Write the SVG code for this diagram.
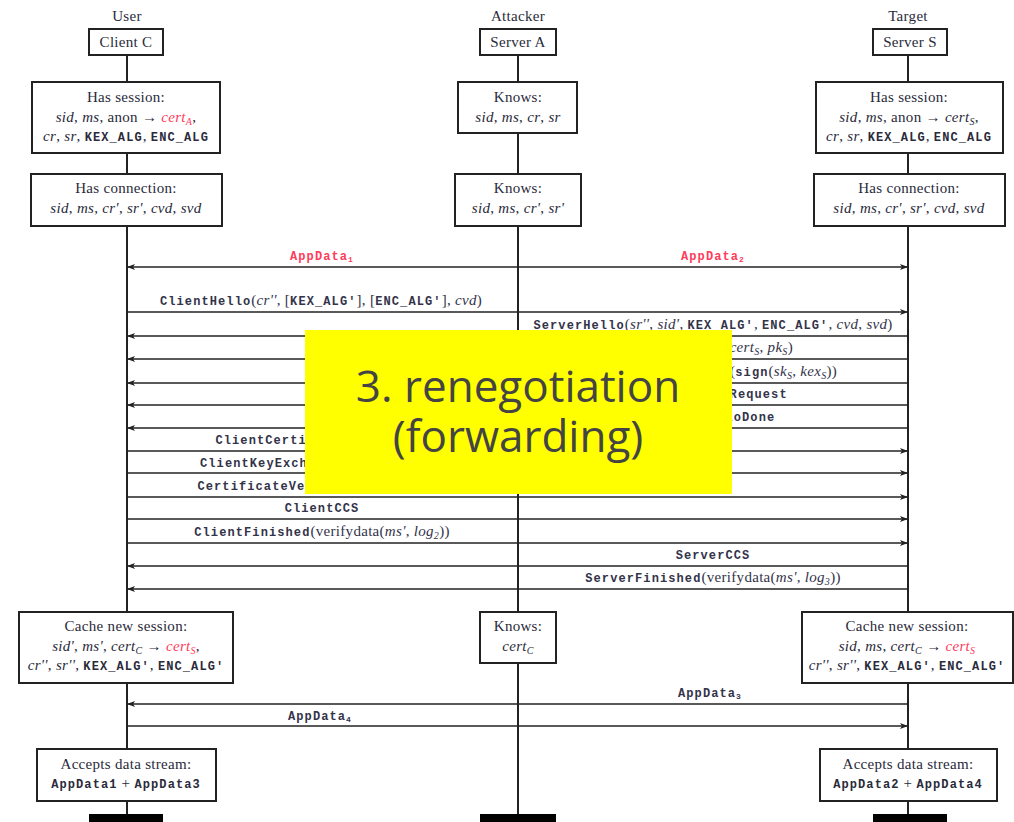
<svg xmlns="http://www.w3.org/2000/svg" width="1014" height="822" viewBox="0 0 1014 822">
  <defs>
    <marker id="arr" viewBox="0 0 8 6" refX="8" refY="3" markerWidth="8" markerHeight="6" markerUnits="userSpaceOnUse" orient="auto">
      <path d="M0,0 L8,3 L0,6 L2,3 Z" fill="#222"/>
    </marker>
    <style>
      .box { fill: #fff; stroke: #222; stroke-width: 2; }
      .life { stroke: #222; stroke-width: 2; fill: none; }
      .msg { stroke: #222; stroke-width: 1.6; fill: none; marker-end: url(#arr); }
      .rm { font-family: "Liberation Serif", "DejaVu Serif", serif; font-size: 15px; letter-spacing: 0.3px; fill: #2a2a3a; text-anchor: middle; }
      .tt { font-family: "Liberation Mono", "DejaVu Sans Mono", monospace; font-size: 12px; letter-spacing: 1.1px; font-weight: bold; fill: #33334a; text-anchor: middle; }
      .ttn { font-family: "Liberation Mono", "DejaVu Sans Mono", monospace; font-size: 12px; letter-spacing: 1.1px; font-weight: bold; font-style: normal; }
      .it { font-family: "Liberation Serif", "DejaVu Serif", serif; font-style: italic; font-weight: normal; font-size: 15px; letter-spacing: 0.3px; }
      .ser { font-family: "Liberation Serif", "DejaVu Serif", serif; font-weight: normal; font-size: 15px; letter-spacing: 0.3px; }
      .red { fill: #ff3b5c; }
      .bar { fill: #000; }
      .note { fill: #ffff00; }
      .notetext { font-family: "Open Sans", "Noto Sans", sans-serif; font-size: 44px; fill: #444; text-anchor: middle; }
    </style>
  </defs>

  <!-- role headings -->
  <text class="rm" x="127" y="21">User</text>
  <text class="rm" x="518" y="21">Attacker</text>
  <text class="rm" x="908" y="21">Target</text>

  <!-- lifelines and messages -->
  <g id="connectors">
    <path class="life" d="M127,55 V82 M127,153 V174 M127,226 V612 M127,683 V749 M127,801 V814"/>
    <path class="life" d="M518,55 V82 M518,133 V174 M518,226 V612 M518,663 V814"/>
    <path class="life" d="M908,55 V82 M908,153 V174 M908,226 V612 M908,683 V749 M908,801 V814"/>

    <line class="msg" x1="518" y1="267" x2="127" y2="267"/>
    <line class="msg" x1="518" y1="267" x2="908" y2="267"/>
    <line class="msg" x1="127" y1="312" x2="908" y2="312"/>
    <line class="msg" x1="908" y1="336" x2="127" y2="336"/>
    <line class="msg" x1="908" y1="359" x2="127" y2="359"/>
    <line class="msg" x1="908" y1="383" x2="127" y2="383"/>
    <line class="msg" x1="908" y1="405" x2="127" y2="405"/>
    <line class="msg" x1="908" y1="428" x2="127" y2="428"/>
    <line class="msg" x1="127" y1="451" x2="908" y2="451"/>
    <line class="msg" x1="127" y1="473" x2="908" y2="473"/>
    <line class="msg" x1="127" y1="497" x2="908" y2="497"/>
    <line class="msg" x1="127" y1="519" x2="908" y2="519"/>
    <line class="msg" x1="127" y1="543" x2="908" y2="543"/>
    <line class="msg" x1="908" y1="566" x2="127" y2="566"/>
    <line class="msg" x1="908" y1="589" x2="127" y2="589"/>
    <line class="msg" x1="908" y1="704" x2="127" y2="704"/>
    <line class="msg" x1="127" y1="726" x2="908" y2="726"/>
  </g>

  <!-- message labels -->
  <g id="labels">
    <text class="tt red" x="322" y="260">AppData<tspan font-size="8" dy="2">1</tspan></text>
    <text class="tt red" x="713" y="260">AppData<tspan font-size="8" dy="2">2</tspan></text>
    <text class="tt" x="321" y="305">ClientHello<tspan class="ser">(</tspan><tspan class="it">cr''</tspan><tspan class="ser">, [</tspan><tspan class="ttn">KEX_ALG'</tspan><tspan class="ser">], [</tspan><tspan class="ttn">ENC_ALG'</tspan><tspan class="ser">], </tspan><tspan class="it">cvd</tspan><tspan class="ser">)</tspan></text>
    <text class="tt" x="713" y="329">ServerHello<tspan class="ser">(</tspan><tspan class="it">sr''</tspan><tspan class="ser">, </tspan><tspan class="it">sid'</tspan><tspan class="ser">, </tspan><tspan class="ttn">KEX_ALG'</tspan><tspan class="ser">, </tspan><tspan class="ttn">ENC_ALG'</tspan><tspan class="ser">, </tspan><tspan class="it">cvd</tspan><tspan class="ser">, </tspan><tspan class="it">svd</tspan><tspan class="ser">)</tspan></text>
    <text class="tt" x="713" y="352">Certificate<tspan class="ser">(</tspan><tspan class="it">cert<tspan font-size="10" dy="3">S</tspan></tspan><tspan class="ser" dy="-3">, </tspan><tspan class="it">pk<tspan font-size="10" dy="3">S</tspan></tspan><tspan class="ser" dy="-3">)</tspan></text>
    <text class="tt" x="713" y="376">ServerKeyExchange<tspan class="ser">(</tspan>sign<tspan class="ser">(</tspan><tspan class="it">sk<tspan font-size="10" dy="3">S</tspan></tspan><tspan class="ser" dy="-3">, </tspan><tspan class="it">kex<tspan font-size="10" dy="3">S</tspan></tspan><tspan class="ser" dy="-3">))</tspan></text>
    <text class="tt" x="713" y="398">CertificateRequest</text>
    <text class="tt" x="713" y="421">ServerHelloDone</text>
    <text class="tt" x="322" y="444">ClientCertificate<tspan class="ser">(</tspan><tspan class="it">cert<tspan font-size="10" dy="3">C</tspan></tspan><tspan class="ser" dy="-3">, </tspan><tspan class="it">pk<tspan font-size="10" dy="3">C</tspan></tspan><tspan class="ser" dy="-3">)</tspan></text>
    <text class="tt" x="322" y="467">ClientKeyExchange<tspan class="ser">(</tspan>rsa<tspan class="ser">(</tspan><tspan class="it">pk<tspan font-size="10" dy="3">S</tspan></tspan><tspan class="ser" dy="-3">, </tspan><tspan class="it">pms'</tspan><tspan class="ser">))</tspan></text>
    <text class="tt" x="322" y="490">CertificateVerify<tspan class="ser">(</tspan>sign<tspan class="ser">(</tspan><tspan class="it">log<tspan font-size="10" dy="3">1</tspan></tspan><tspan class="ser" dy="-3">, </tspan><tspan class="it">sk<tspan font-size="10" dy="3">C</tspan></tspan><tspan class="ser" dy="-3">))</tspan></text>
    <text class="tt" x="322" y="512">ClientCCS</text>
    <text class="tt" x="322" y="536">ClientFinished<tspan class="ser">(verifydata(</tspan><tspan class="it">ms'</tspan><tspan class="ser">, </tspan><tspan class="it">log<tspan font-size="10" dy="3">2</tspan></tspan><tspan class="ser" dy="-3">))</tspan></text>
    <text class="tt" x="713" y="559">ServerCCS</text>
    <text class="tt" x="713" y="582">ServerFinished<tspan class="ser">(verifydata(</tspan><tspan class="it">ms'</tspan><tspan class="ser">, </tspan><tspan class="it">log<tspan font-size="10" dy="3">3</tspan></tspan><tspan class="ser" dy="-3">))</tspan></text>
    <text class="tt" x="710" y="697">AppData<tspan font-size="8" dy="2">3</tspan></text>
    <text class="tt" x="320" y="720">AppData<tspan font-size="8" dy="2">4</tspan></text>
  </g>

  <!-- Client column -->
  <g id="client-c">
    <rect class="box" x="89" y="29" width="74" height="26"/>
    <text class="rm" x="126" y="47">Client C</text>
  </g>
  <g id="client-session">
    <rect class="box" x="32" y="82" width="188" height="71"/>
    <text class="rm" x="126" y="102">Has session:</text>
    <text class="rm" x="126" y="122"><tspan class="it">sid</tspan>, <tspan class="it">ms</tspan>, anon → <tspan class="it red">cert<tspan font-size="10" dy="3">A</tspan></tspan><tspan dy="-3">,</tspan></text>
    <text class="rm" x="126" y="141"><tspan class="it">cr</tspan>, <tspan class="it">sr</tspan>, <tspan class="ttn">KEX_ALG</tspan>, <tspan class="ttn">ENC_ALG</tspan></text>
  </g>
  <g id="client-connection">
    <rect class="box" x="31" y="174" width="191" height="52"/>
    <text class="rm" x="126" y="193">Has connection:</text>
    <text class="rm" x="126" y="213"><tspan class="it">sid</tspan>, <tspan class="it">ms</tspan>, <tspan class="it">cr'</tspan>, <tspan class="it">sr'</tspan>, <tspan class="it">cvd</tspan>, <tspan class="it">svd</tspan></text>
  </g>
  <g id="client-cache">
    <rect class="box" x="19" y="612" width="214" height="71"/>
    <text class="rm" x="126" y="631">Cache new session:</text>
    <text class="rm" x="126" y="651"><tspan class="it">sid'</tspan>, <tspan class="it">ms'</tspan>, <tspan class="it">cert<tspan font-size="10" dy="3">C</tspan></tspan><tspan dy="-3"> → </tspan><tspan class="it red">cert<tspan font-size="10" dy="3">S</tspan></tspan><tspan dy="-3">,</tspan></text>
    <text class="rm" x="126" y="670"><tspan class="it">cr''</tspan>, <tspan class="it">sr''</tspan>, <tspan class="ttn">KEX_ALG'</tspan>, <tspan class="ttn">ENC_ALG'</tspan></text>
  </g>
  <g id="client-accepts">
    <rect class="box" x="37" y="749" width="179" height="52"/>
    <text class="rm" x="126" y="769">Accepts data stream:</text>
    <text class="rm" x="126" y="788"><tspan class="ttn">AppData1</tspan> + <tspan class="ttn">AppData3</tspan></text>
  </g>
  <rect class="bar" x="89" y="814" width="74" height="8"/>

  <!-- Attacker column -->
  <g id="server-a">
    <rect class="box" x="480" y="29" width="76" height="26"/>
    <text class="rm" x="518" y="47">Server A</text>
  </g>
  <g id="attacker-knows-1">
    <rect class="box" x="458" y="82" width="119" height="51"/>
    <text class="rm" x="518" y="102">Knows:</text>
    <text class="rm" x="518" y="122"><tspan class="it">sid</tspan>, <tspan class="it">ms</tspan>, <tspan class="it">cr</tspan>, <tspan class="it">sr</tspan></text>
  </g>
  <g id="attacker-knows-2">
    <rect class="box" x="455" y="174" width="126" height="52"/>
    <text class="rm" x="518" y="193">Knows:</text>
    <text class="rm" x="518" y="213"><tspan class="it">sid</tspan>, <tspan class="it">ms</tspan>, <tspan class="it">cr'</tspan>, <tspan class="it">sr'</tspan></text>
  </g>
  <g id="attacker-knows-3">
    <rect class="box" x="480" y="612" width="76" height="51"/>
    <text class="rm" x="518" y="631">Knows:</text>
    <text class="rm" x="518" y="651"><tspan class="it">cert<tspan font-size="10" dy="3">C</tspan></tspan></text>
  </g>
  <rect class="bar" x="480" y="814" width="76" height="8"/>

  <!-- Target column -->
  <g id="server-s">
    <rect class="box" x="873" y="29" width="74" height="26"/>
    <text class="rm" x="910" y="47">Server S</text>
  </g>
  <g id="server-session">
    <rect class="box" x="816" y="82" width="187" height="71"/>
    <text class="rm" x="909" y="102">Has session:</text>
    <text class="rm" x="909" y="122"><tspan class="it">sid</tspan>, <tspan class="it">ms</tspan>, anon → <tspan class="it">cert<tspan font-size="10" dy="3">S</tspan></tspan><tspan dy="-3">,</tspan></text>
    <text class="rm" x="909" y="141"><tspan class="it">cr</tspan>, <tspan class="it">sr</tspan>, <tspan class="ttn">KEX_ALG</tspan>, <tspan class="ttn">ENC_ALG</tspan></text>
  </g>
  <g id="server-connection">
    <rect class="box" x="814" y="174" width="191" height="52"/>
    <text class="rm" x="909" y="193">Has connection:</text>
    <text class="rm" x="909" y="213"><tspan class="it">sid</tspan>, <tspan class="it">ms</tspan>, <tspan class="it">cr'</tspan>, <tspan class="it">sr'</tspan>, <tspan class="it">cvd</tspan>, <tspan class="it">svd</tspan></text>
  </g>
  <g id="server-cache">
    <rect class="box" x="802" y="612" width="211" height="71"/>
    <text class="rm" x="907" y="631">Cache new session:</text>
    <text class="rm" x="907" y="651"><tspan class="it">sid</tspan>, <tspan class="it">ms</tspan>, <tspan class="it">cert<tspan font-size="10" dy="3">C</tspan></tspan><tspan dy="-3"> → </tspan><tspan class="it red">cert<tspan font-size="10" dy="3">S</tspan></tspan></text>
    <text class="rm" x="907" y="670"><tspan class="it">cr''</tspan>, <tspan class="it">sr''</tspan>, <tspan class="ttn">KEX_ALG'</tspan>, <tspan class="ttn">ENC_ALG'</tspan></text>
  </g>
  <g id="server-accepts">
    <rect class="box" x="820" y="749" width="177" height="52"/>
    <text class="rm" x="908" y="769">Accepts data stream:</text>
    <text class="rm" x="908" y="788"><tspan class="ttn">AppData2</tspan> + <tspan class="ttn">AppData4</tspan></text>
  </g>
  <rect class="bar" x="873" y="814" width="74" height="8"/>

  <!-- phase callout -->
  <g id="phase-note">
    <rect class="note" x="305" y="330" width="427" height="164"/>
    <text class="notetext" x="518" y="402">3. renegotiation</text>
    <text class="notetext" x="518" y="452">(forwarding)</text>
  </g>
</svg>
